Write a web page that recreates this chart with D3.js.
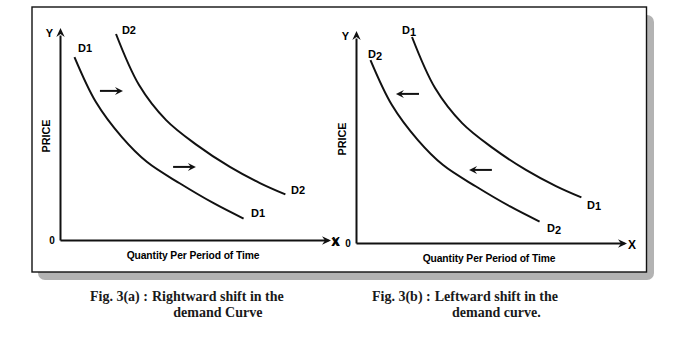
<!DOCTYPE html>
<html><head><meta charset="utf-8">
<script src="https://cdn.jsdelivr.net/npm/d3@7"></script>
<style>body{margin:0;background:#fff}svg{display:block}</style>
</head><body><svg id="c" width="682" height="341"></svg>
<script>
// ---- data (quantity / price in arbitrary units 0..10) ----
const quantityLower = [0.54, 1.34, 2.31, 3.25, 4.48, 5.75, 6.85];
const priceLower    = [8.71, 6.57, 4.90, 3.71, 2.69, 1.74, 1.02];
const quantityUpper = [2.09, 2.95, 3.96, 5.11, 6.34, 7.46, 8.41];
const priceUpper    = [9.81, 7.38, 5.71, 4.52, 3.48, 2.71, 2.17];

const shiftArrowQtyLow  = [1.49, 4.22];
const shiftArrowQtyHigh = [2.35, 5.07];
const shiftArrowPrice   = [7.10, 3.48];

const labelTextA  = ["D1", "D2", "D2", "D1"];
const labelQtyA   = [0.67, 2.31, 8.62, 7.13];
const labelPriceA = [8.95, 9.81, 2.19, 1.10];
const labelTextB  = ["D1", "D2", "D1", "D2"];
const labelQtyB   = [1.72, 0.45, 8.62, 7.13];
const labelPriceB = [9.95, 8.81, 1.62, 0.52];

const axisTitleX = "Quantity Per Period of Time";
const axisTitleY = "PRICE";
const captionTags  = ["Fig. 3(a) :", "Fig. 3(b) :"];
const captionLine1 = ["Rightward shift in the", "Leftward shift in the"];
const captionLine2 = ["demand Curve", "demand curve."];

// ---- layout ----
const svg = d3.select("#c");
const sans = "'Liberation Sans', Arial, sans-serif";
const serif = "'Liberation Serif', 'Times New Roman', serif";

// frame with shadow
svg.append("rect").attr("x", 38).attr("y", 15).attr("width", 616).attr("height", 265)
  .attr("rx", 7).attr("fill", "#b3b3b3");
svg.append("rect").attr("x", 32).attr("y", 7).attr("width", 614.5).attr("height", 265)
  .attr("fill", "#fff").attr("stroke", "#111").attr("stroke-width", 1.4);

const x = d3.scaleLinear().domain([0, 10]).range([0, 268]);
const y = d3.scaleLinear().domain([0, 10]).range([0, -210]);

const curveLine = d3.line().x(d => x(d[0])).y(d => y(d[1])).curve(d3.curveCatmullRom.alpha(0.5));
const lowerPts = quantityLower.map((q, i) => [q, priceLower[i]]);
const upperPts = quantityUpper.map((q, i) => [q, priceUpper[i]]);

const panels = [
  { origin: [60, 240], dir: 1, labels: labelTextA, lq: labelQtyA, lp: labelPriceA, sub: false, extraX: false },
  { origin: [356, 243], dir: -1, labels: labelTextB, lq: labelQtyB, lp: labelPriceB, sub: true, extraX: true }
];

function arrowHead(g, tx, ty, angle, len, half, notch) {
  g.append("path")
    .attr("d", `M0,0L${-len},${-half}L${-notch},0L${-len},${half}Z`)
    .attr("transform", `translate(${tx},${ty}) rotate(${angle})`)
    .attr("fill", "#111");
}

panels.forEach((p, pi) => {
  const g = svg.append("g").attr("transform", `translate(${p.origin[0]},${p.origin[1]})`);

  // axes through d3 axis generators (no ticks)
  const ax = g.append("g").call(d3.axisBottom(x).tickValues([]).tickSizeOuter(0));
  const ay = g.append("g").call(d3.axisLeft(y.copy().range([0, -205])).tickValues([]).tickSizeOuter(0));
  [ax, ay].forEach(a => a.select(".domain").attr("stroke", "#111").attr("stroke-width", 2));
  arrowHead(g, 271, 0.5, 0, 9, 4.2, 6);
  arrowHead(g, 0.5, -212, -90, 9, 4.2, 6);

  // axis letters
  g.append("text").attr("x", -10.5).attr("y", -203).attr("text-anchor", "middle")
    .attr("font-family", sans).attr("font-weight", "bold").attr("font-size", 11).text("Y");
  g.append("text").attr("x", -8).attr("y", 3.5).attr("text-anchor", "middle")
    .attr("font-family", sans).attr("font-weight", "bold").attr("font-size", 10).text("0");
  g.append("text").attr("x", 276).attr("y", 5.5).attr("text-anchor", "middle")
    .attr("font-family", sans).attr("font-weight", "bold").attr("font-size", 12).text("X");
  if (p.extraX) {
    g.append("text").attr("x", -21).attr("y", 3).attr("text-anchor", "middle")
      .attr("font-family", sans).attr("font-weight", "bold").attr("font-size", 11).text("X");
  }

  // axis titles
  g.append("text").attr("transform", "translate(-10,-104) rotate(-90)").attr("text-anchor", "middle")
    .attr("font-family", sans).attr("font-weight", "bold").attr("font-size", 10.8).text(axisTitleY);
  g.append("text").attr("x", 133).attr("y", 18.5).attr("text-anchor", "middle")
    .attr("font-family", sans).attr("font-weight", "bold").attr("font-size", 10.3)
    .attr("letter-spacing", -0.1).text(axisTitleX);

  // curves
  [lowerPts, upperPts].forEach(pts => {
    g.append("path").attr("d", curveLine(pts)).attr("fill", "none")
      .attr("stroke", "#111").attr("stroke-width", 2);
  });

  // shift arrows
  shiftArrowPrice.forEach((pr, i) => {
    const a0 = p.dir > 0 ? shiftArrowQtyLow[i] : shiftArrowQtyHigh[i];
    const a1 = p.dir > 0 ? shiftArrowQtyHigh[i] : shiftArrowQtyLow[i];
    const tipX = x(a1), tailX = x(a0), yy = y(pr);
    g.append("line").attr("x1", tailX).attr("x2", tipX - p.dir * 4).attr("y1", yy).attr("y2", yy)
      .attr("stroke", "#111").attr("stroke-width", 2);
    arrowHead(g, tipX, yy, p.dir > 0 ? 0 : 180, 8, 4, 5);
  });

  // curve labels
  p.labels.forEach((t, i) => {
    const tx = g.append("text").attr("x", x(p.lq[i])).attr("y", y(p.lp[i]))
      .attr("font-family", sans).attr("font-weight", "bold").attr("font-size", 11);
    tx.append("tspan").text(t[0]);
    tx.append("tspan").attr("dy", p.sub ? 1.5 : 0).text(t.slice(1));
  });
});

// captions
const capStartX = [90, 372];
captionTags.forEach((tag, i) => {
  const t1 = svg.append("text").attr("x", capStartX[i]).attr("y", 301)
    .attr("font-family", serif).attr("font-weight", "bold").attr("font-size", 14).attr("fill", "#1a1a1a").text(tag);
  const tagW = t1.node().getComputedTextLength();
  const dx = capStartX[i] + tagW + 4;
  const t2 = svg.append("text").attr("x", dx).attr("y", 301)
    .attr("font-family", serif).attr("font-weight", "bold").attr("font-size", 14).attr("fill", "#1a1a1a").text(captionLine1[i]);
  const descW = t2.node().getComputedTextLength();
  svg.append("text").attr("x", dx + descW / 2).attr("y", 316.5).attr("text-anchor", "middle")
    .attr("font-family", serif).attr("font-weight", "bold").attr("font-size", 14).attr("fill", "#1a1a1a").text(captionLine2[i]);
});
</script>
</body></html>
